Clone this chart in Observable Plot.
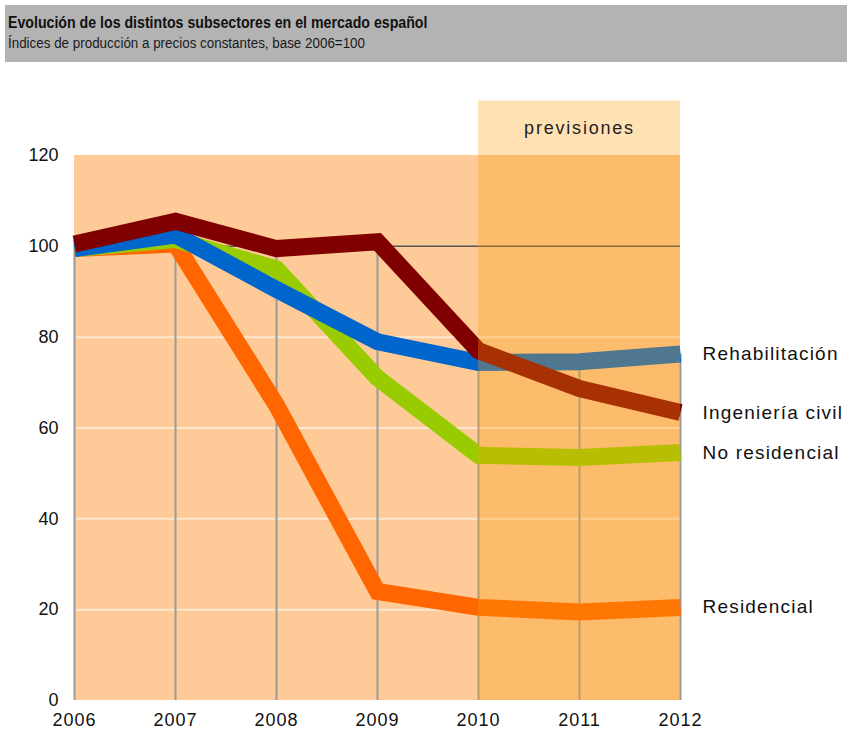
<!DOCTYPE html>
<html>
<head>
<meta charset="utf-8">
<script src="https://cdn.jsdelivr.net/npm/d3@7"></script>
<script src="https://cdn.jsdelivr.net/npm/@observablehq/plot@0.6"></script>
<style>
  html, body { margin: 0; padding: 0; background: #fff; }
  #wrap { width: 847px; height: 738px; position: relative; overflow: hidden; }
  #head { position: absolute; left: 5px; top: 5px; width: 842px; height: 57px; background: #b3b3b3; font-family: "Liberation Sans", Arial, sans-serif; color: #111; }
  #head .t { position: absolute; left: 3px; top: 9px; font-weight: bold; font-size: 16px; line-height: normal; white-space: nowrap; transform: scaleX(0.885); transform-origin: 0 0; }
  #head .s { position: absolute; left: 3px; top: 29px; font-size: 15.5px; line-height: normal; color: #1a1a1a; white-space: nowrap; transform: scaleX(0.864); transform-origin: 0 0; }
  #chart { position: absolute; left: 0; top: 62px; }
</style>
</head>
<body>
<div id="wrap">
  <div id="head">
    <div class="t">Evolución de los distintos subsectores en el mercado español</div>
    <div class="s">Índices de producción a precios constantes, base 2006=100</div>
  </div>
  <div id="chart"></div>
</div>
<script>
const years = [2006, 2007, 2008, 2009, 2010, 2011, 2012];
const residencial    = [99.5, 100.5, 65, 24, 20.5, 19.5, 20.5];
const noResidencial  = [99.5, 101.5, 95, 71, 54, 53.5, 54.6];
const rehabilitacion = [99.5, 102.5, 90.5, 79, 74.4, 74.6, 76.3];
const ingenieria     = [100.5, 105.5, 99.5, 101, 77, 68.7, 63.4];
const seriesNames  = ["Residencial", "No residencial", "Rehabilitación", "Ingeniería civil"];
const seriesValues = [residencial, noResidencial, rehabilitacion, ingenieria];
const seriesColors = ["#ff6600", "#99cc00", "#0066cc", "#800000"];
const yTicks = [0, 20, 40, 60, 80, 100, 120];
const forecastStart = 2010, forecastEnd = 2012;
const forecastLabel = "previsiones";

const rows = [];
seriesNames.forEach((name, i) => years.forEach((yr, j) => rows.push({serie: name, year: yr, value: seriesValues[i][j]})));
const maxByYear = years.map((yr, j) => ({year: yr, top: d3.max(seriesValues, s => s[j])}));
const ends = seriesNames.map((name, i) => ({serie: name, year: years[years.length - 1], value: seriesValues[i][years.length - 1]}));

const chart = Plot.plot({
  width: 847,
  height: 676,
  marginLeft: 74,
  marginRight: 167,
  marginTop: 93,
  marginBottom: 38,
  style: {fontFamily: "'Liberation Sans', Arial, sans-serif", fontSize: "18px", color: "#111", background: "transparent"},
  x: {domain: [2006, 2012], label: null},
  y: {domain: [0, 120], label: null},
  color: {domain: seriesNames, range: seriesColors},
  marks: [
    Plot.rectY([{x1: 2006, x2: 2012, y1: 0, y2: 120}], {x1: "x1", x2: "x2", y1: "y1", y2: "y2", fill: "#fdca98"}),
    Plot.ruleY([20, 40, 60, 80], {stroke: "#ffffff", strokeWidth: 2, strokeOpacity: 0.55}),
    Plot.ruleX(maxByYear, {x: "year", y1: 0, y2: "top", stroke: "#9a9a9a", strokeWidth: 2}),
    Plot.ruleY([100], {stroke: "#555", strokeWidth: 1.5}),
    Plot.line(rows, {x: "year", y: "value", z: "serie", stroke: "serie", strokeWidth: 17, strokeLinejoin: "miter", strokeLinecap: "butt", strokeMiterlimit: 10}),
    Plot.rectY([{x1: forecastStart, x2: forecastEnd, y1: 0, y2: 132}], {x1: "x1", x2: "x2", y1: "y1", y2: "y2", fill: "rgb(255,157,10)", fillOpacity: 0.31}),
    Plot.text([{x: (forecastStart + forecastEnd) / 2, y: 126, t: forecastLabel}], {x: "x", y: "y", text: "t", fontSize: 18, fill: "#222"}),
    Plot.text(ends, {x: "year", y: "value", text: "serie", textAnchor: "start", dx: 22, fontSize: 19, fill: "#111"}),
    Plot.axisX({ticks: years, tickFormat: "d", tickSize: 0, tickPadding: 13, fontSize: 18}),
    Plot.axisY({ticks: yTicks, tickSize: 0, tickPadding: 16, fontSize: 18})
  ]
});
// widen letter spacing of end labels and x tick labels to match the reference's spaced lettering
d3.select(chart).selectAll("g[aria-label='text'] text").each(function() {
  const t = d3.select(this).text();
  if (t === forecastLabel) this.style.letterSpacing = "1.8px";
  else this.style.letterSpacing = "1.2px";
});
d3.select(chart).selectAll("g[aria-label='x-axis tick label'] text").style("letter-spacing", "1px");
document.getElementById("chart").appendChild(chart);
</script>
</body>
</html>
